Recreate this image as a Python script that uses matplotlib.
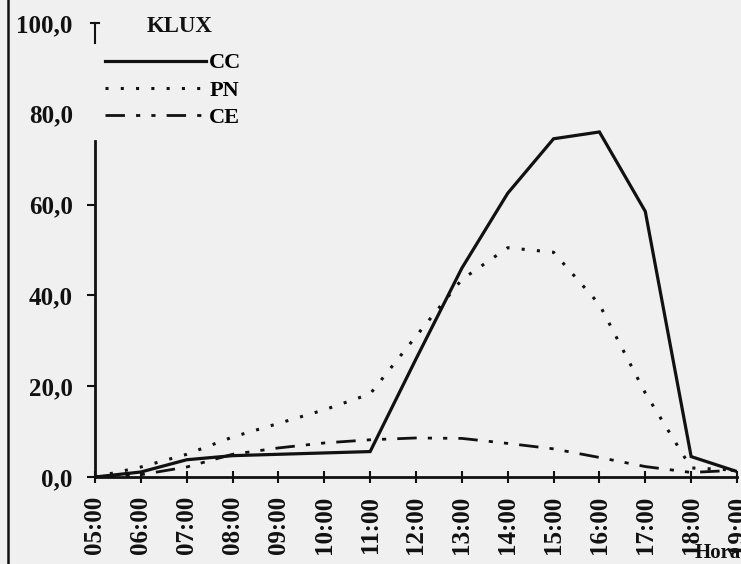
import numpy as np
import matplotlib
matplotlib.use("Agg")
import matplotlib.pyplot as plt
from matplotlib.lines import Line2D

# === DATA ===
horas = ['05:00', '06:00', '07:00', '08:00', '09:00', '10:00', '11:00', '12:00',
         '13:00', '14:00', '15:00', '16:00', '17:00', '18:00', '19:00']
cc = [0.0, 1.1, 3.8, 4.7, 5.0, 5.3, 5.6, 26.0, 46.0, 62.5, 74.5, 76.0, 58.5, 4.5, 1.2]
pn = [0.0, 2.2, 5.0, 8.8, 11.8, 14.8, 18.3, 31.0, 43.5, 50.5, 49.5, 38.0, 18.5, 2.0, 1.5]
ce = [0.0, 0.5, 2.2, 5.0, 6.4, 7.5, 8.2, 8.6, 8.5, 7.4, 6.2, 4.3, 2.3, 1.0, 1.5]
y_ticks = [0, 20, 40, 60, 80, 100]
y_labels = ['0,0', '20,0', '40,0', '60,0', '80,0', '100,0']

# === STYLE ===
plt.rcParams.update({
    "font.family": "Liberation Serif",
    "font.weight": "bold",
    "font.size": 16,
})
ink = '#111111'
bg = '#f0f0f0'

fig = plt.figure(figsize=(7.41, 5.64), dpi=100, facecolor=bg)
ax = fig.add_axes([95 / 741, 87 / 564, 642 / 741, 454 / 564], facecolor=bg)

x = np.arange(len(horas))
ax.plot(x, cc, color=ink, lw=2.3, solid_joinstyle='miter', label='CC')
ax.plot(x, pn, color=ink, lw=2.2, linestyle=(0, (1.0, 4.0)), label='PN')
ax.plot(x, ce, color=ink, lw=2.0, linestyle=(0, (7, 4, 1.5, 4, 1.5, 4)), label='CE')

ax.set_xlim(0, len(horas) - 1)
ax.set_ylim(0, 100)
ax.set_xticks(x)
ax.set_xticklabels(horas, rotation=90, fontsize=18, fontweight='bold')
ax.set_yticks(y_ticks)
ax.set_yticklabels(y_labels, fontsize=18, fontweight='bold')

for s in ['top', 'right']:
    ax.spines[s].set_visible(False)
ax.spines['left'].set_bounds(0, 74)
ax.spines['left'].set_linewidth(2.0)
ax.spines['bottom'].set_linewidth(2.0)
ax.spines['left'].set_color(ink)
ax.spines['bottom'].set_color(ink)

ax.tick_params(axis='x', direction='inout', length=9, width=1.5, pad=9, colors=ink)
ax.tick_params(axis='y', direction='out', length=6, width=1.5, pad=10, colors=ink)
# top tick drawn as a small "T", no tick at 80
ax.yaxis.get_major_ticks()[4].tick1line.set_visible(False)
ax.yaxis.get_major_ticks()[5].tick1line.set_visible(False)
ax.plot([-0.08, 0.08], [100, 100], color=ink, lw=1.5, clip_on=False)
ax.plot([0, 0], [100, 95.5], color=ink, lw=1.5, clip_on=False)

leg = ax.legend(loc='upper left', bbox_to_anchor=(96 / 741, 1 - 44 / 564),
                bbox_transform=fig.transFigure, frameon=False, handlelength=4.55,
                handletextpad=0.15, labelspacing=0.3, borderaxespad=0,
                prop={'family': 'Liberation Serif', 'weight': 'bold', 'size': 16})

fig.text(180 / 741, 1 - 27 / 564, 'KLUX', ha='center', va='center',
         fontsize=16.5, fontweight='bold', color=ink)
fig.text(741 / 741, 1 - 553 / 564, 'Hora', ha='right', va='center',
         fontsize=15, fontweight='bold', color=ink)

# left frame line of the scan
fig.add_artist(Line2D([8 / 741, 8 / 741], [0, 1], transform=fig.transFigure,
                      color=ink, lw=1.8))

fig.savefig('out.png', dpi=100, facecolor=bg)
